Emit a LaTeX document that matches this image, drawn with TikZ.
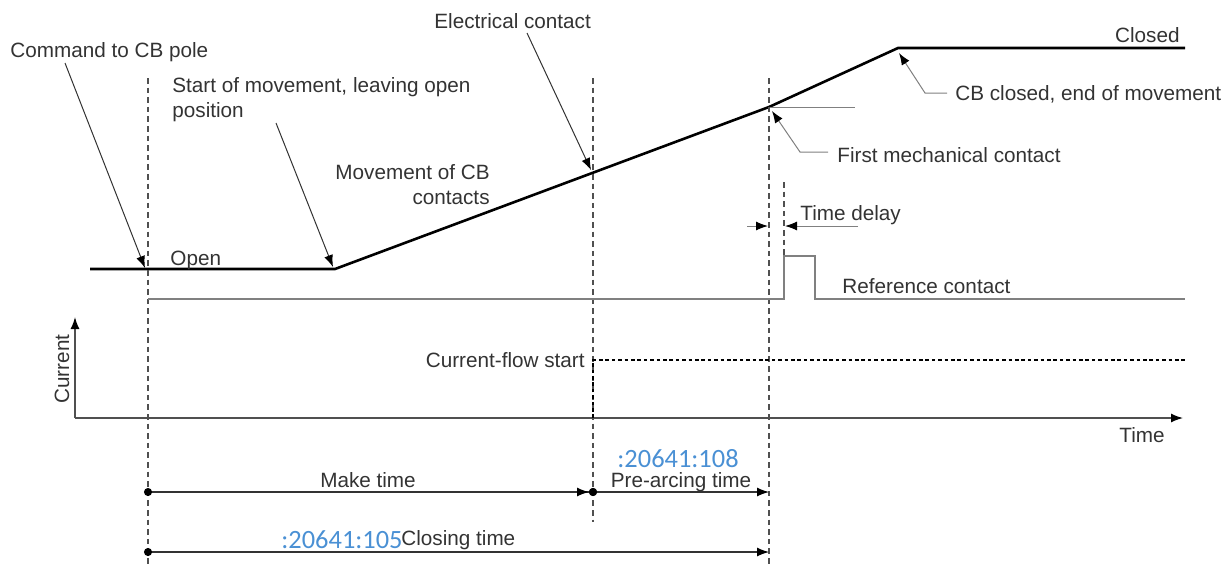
\documentclass[tikz,border=0pt]{standalone}
\usepackage{fontspec}
\setmainfont{Liberation Sans}
\newfontfamily\idfont{Carlito}
\usepackage{tikz}
\usetikzlibrary{arrows.meta,positioning}
\usepackage{xcolor}
\definecolor{cbtext}{RGB}{51,51,51}
\definecolor{cbgray}{RGB}{128,128,128}
\definecolor{cbdash}{RGB}{80,80,80}
\definecolor{cbblue}{RGB}{74,144,212}
\tikzstyle{txt} = [inner sep=0pt, text=cbtext, font=\fontsize{10.35}{12.5}\selectfont]
\tikzstyle{idtxt} = [inner sep=0pt, text=cbblue, font=\idfont\fontsize{13.2}{15}\selectfont]
\tikzstyle{pointer} = [line width=0.5pt, color=cbtext, -{Latex[length=6pt,width=4.5pt,color=black]}]
\tikzstyle{leader} = [line width=0.5pt, color=cbgray, -{Latex[length=6pt,width=4.5pt,color=black]}]
\tikzstyle{marker} = [line width=0.6pt, color=cbdash, dash pattern=on 2.8pt off 2pt]
\tikzstyle{travel} = [line width=1.3pt, black]
\tikzstyle{refline} = [line width=1pt, color=cbgray]
\tikzstyle{axis} = [line width=0.7pt, color=cbdash, -{Latex[length=6pt,width=4.5pt,color=black]}]
\tikzstyle{span} = [line width=0.6pt, color=cbtext, {Circle[length=4pt,color=black]}-{Latex[length=6pt,width=4.5pt,color=black]}]

\begin{document}
\begin{tikzpicture}[x=0.5pt, y=-0.5pt]
\useasboundingbox (0,0) rectangle (1232,564);

% Contact travel
\coordinate (open0) at (90,269);
\coordinate (move0) at (335,269);
\coordinate (elec) at (593,173);
\coordinate (mech) at (769,107);
\coordinate (mechend) at (855,107);
\coordinate (close0) at (898,48);
\coordinate (close1) at (1185,48);
\draw[travel] (open0) -- (move0) -- (mech) -- (close0) -- (close1);
\draw[line width=0.5pt, cbgray] (mech) -- (mechend);

% Dashed time markers
\coordinate (cmdtop) at (148,78);
\coordinate (cmdbot) at (148,564);
\coordinate (elctop) at (593,78);
\coordinate (elcbot) at (593,522);
\coordinate (mectop) at (769,78);
\coordinate (mecbot) at (769,564);
\coordinate (reftop) at (784,182);
\coordinate (refbot) at (784,256);
\draw[marker] (cmdtop) -- (cmdbot);
\draw[marker] (elctop) -- (elcbot);
\draw[marker] (mectop) -- (mecbot);
\draw[marker] (reftop) -- (refbot);

% Reference contact
\coordinate (ref0) at (148,299);
\coordinate (ref1) at (784,299);
\coordinate (ref2) at (784,256);
\coordinate (ref3) at (815,256);
\coordinate (ref4) at (815,299);
\coordinate (ref5) at (1185,299);
\draw[refline] (ref0) -- (ref1) -- (ref2) -- (ref3) -- (ref4) -- (ref5);

% Current axes
\coordinate (orig) at (75,418);
\coordinate (ytip) at (75,317);
\coordinate (xtip) at (1183,418);
\draw[axis] (orig) -- (ytip);
\draw[axis] (orig) -- (xtip);
\coordinate (flow0) at (593,418);
\coordinate (flow1) at (593,360);
\coordinate (flow2) at (1186,360);
\draw[black, line width=1.1pt, dash pattern=on 1.8pt off 1.4pt] (flow0) -- (flow1) -- (flow2);

% Labels
\node (cmd) [txt, anchor=base west] at (10,57) {Command to CB pole};
\node (start) [txt, anchor=base west, align=left] at (172,117) {Start of movement, leaving open\\position};
\node (elctxt) [txt, anchor=base west] at (434,28) {Electrical contact};
\node (closed) [txt, anchor=base east] at (1180,42) {Closed};
\node (cbend) [txt, anchor=base west] at (955,100) {CB closed, end of movement};
\node (first) [txt, anchor=base west] at (837,162) {First mechanical contact};
\node (movement) [txt, anchor=base east, align=right] at (490,204) {Movement of CB\\contacts};
\node (delay) [txt, anchor=base west] at (800,220) {Time delay};
\node (open) [txt, anchor=base west] at (170,265) {Open};
\node (reftxt) [txt, anchor=base west] at (842,293) {Reference contact};
\node (flowtxt) [txt, anchor=base east] at (585,367) {Current-flow start};
\node (current) [txt, rotate=90] at (62,369) {Current};
\node (time) [txt, anchor=base west] at (1119,442) {Time};

% Pointers to events
\coordinate (cmdtail) at (65,63);
\coordinate (cmdhead) at (145,268);
\coordinate (starttail) at (276,123);
\coordinate (starthead) at (333,267);
\coordinate (elctail) at (527,33);
\coordinate (elchead) at (591,170);
\draw[pointer] (cmdtail) -- (cmdhead);
\draw[pointer] (starttail) -- (starthead);
\draw[pointer] (elctail) -- (elchead);

\coordinate (firstknee) at (800,152);
\coordinate (firsthead) at (772,111);
\draw[leader] (first.west |- firstknee) ++(-9,0) -- (firstknee) -- (firsthead);
\coordinate (cbknee) at (925,93);
\coordinate (cbhead) at (899,53);
\draw[leader] (947,93) -- (cbknee) -- (cbhead);

% Time delay
\coordinate (dl0) at (747,226);
\coordinate (dl1) at (768,226);
\coordinate (dr0) at (858,226);
\coordinate (dr1) at (785,226);
\draw[leader] (dl0) -- (dl1);
\draw[leader] (dr0) -- (dr1);

% Time spans
\coordinate (mk0) at (144,492);
\coordinate (mk1) at (597,492);
\coordinate (pa0) at (589,492);
\coordinate (pa1) at (769,492);
\coordinate (ct0) at (144,552);
\coordinate (ct1) at (769,552);
\draw[line width=0.6pt, cbtext, {Circle[length=4pt,color=black]}-{Latex[length=6pt,width=4.5pt,color=black]Circle[length=4pt,color=black]}] (mk0) -- (mk1);
\draw[span] (pa0) -- (pa1);
\draw[span] (ct0) -- (ct1);
\node (make) [txt, anchor=base] at (368,487) {Make time};
\node (prearc) [txt, anchor=base] at (681,487) {Pre-arcing time};
\node (closing) [txt, anchor=base west] at (401,545) {Closing time};
\node (id108) [idtxt, anchor=base] at (678,467) {:20641:108};
\node (id105) [idtxt, anchor=base west] at (281,548) {:20641:105};
\end{tikzpicture}
\end{document}
